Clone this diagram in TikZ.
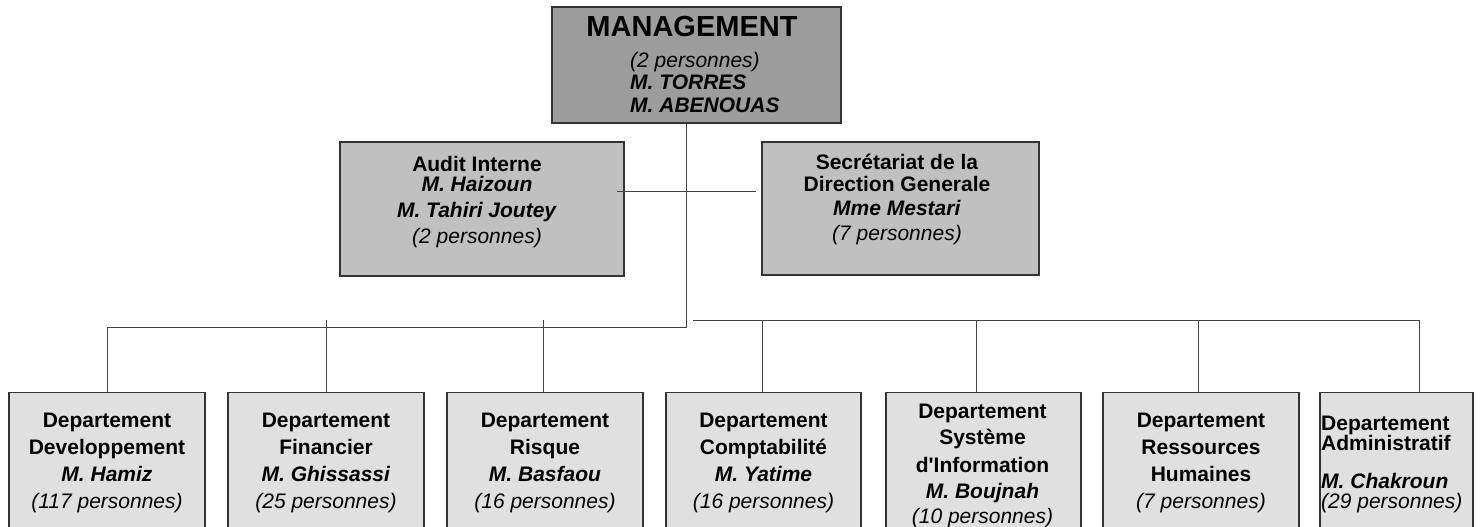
\documentclass[tikz,border=0pt]{standalone}
\usepackage{fontspec}
\setmainfont{Liberation Sans}
\definecolor{mgfill}{HTML}{9C9C9C}
\definecolor{midfill}{HTML}{C0C0C0}
\definecolor{lowfill}{HTML}{E0E0E0}
\definecolor{boxline}{HTML}{333333}
\definecolor{connline}{HTML}{444444}
\tikzset{
  box/.style={draw=boxline, line width=1.2pt, rectangle, inner sep=0pt},
  mgbox/.style={box, fill=mgfill, minimum width=289pt, minimum height=116pt},
  midbox/.style={box, fill=midfill, minimum height=134pt},
  dept/.style={box, fill=lowfill, anchor=north, minimum height=170pt},
  conn/.style={draw=connline, line width=1pt},
  txt/.style={inner sep=0pt, anchor=base, font=\fontsize{21}{25}\selectfont},
  txtl/.style={txt, anchor=base west},
  bigtxt/.style={inner sep=0pt, anchor=base, font=\fontsize{29}{33}\selectfont\bfseries},
}
\newcommand{\bi}[1]{\textbf{\textit{#1}}}
\begin{document}
\begin{tikzpicture}[x=1pt,y=-1pt]
\useasboundingbox (0,0) rectangle (1484,527);
\clip (0,0) rectangle (1484,527);

% boxes
\node[mgbox] (mgmt) at (696.5,65) {};
\node[midbox, minimum width=284pt] (audit) at (482,209) {};
\node[midbox, minimum width=277pt, minimum height=133pt] (secr) at (900.5,208.5) {};
\node[dept, minimum width=196pt] (d1) at (107,392) {};
\node[dept, minimum width=196pt] (d2) at (326,392) {};
\node[dept, minimum width=196pt] (d3) at (545,392) {};
\node[dept, minimum width=195pt] (d4) at (763.5,392) {};
\node[dept, minimum width=195pt] (d5) at (983.5,392) {};
\node[dept, minimum width=196pt] (d6) at (1201,392) {};
\node[dept, minimum width=153pt] (d7) at (1396.5,392) {};

% connector coordinates
\coordinate (mb) at (686,123);
\coordinate (jl) at (686,327);
\coordinate (bl) at (107,327);
\coordinate (ha) at (617,191);
\coordinate (hs) at (756,191);
\coordinate (br0) at (693,320);
\coordinate (br7) at (1419,320);
\coordinate (t7) at (1419,392);
\coordinate (t2a) at (326,320);
\coordinate (t3a) at (543,320);
\coordinate (t3) at (543,392);
\coordinate (t4a) at (762,320);
\coordinate (t4) at (762,392);
\coordinate (t5a) at (976,320);
\coordinate (t5) at (976,392);
\coordinate (t6a) at (1198,320);
\coordinate (t6) at (1198,392);

% connectors
\draw[conn] (mb) -- (jl) -- (bl) -- (d1.north);
\draw[conn] (ha) -- (hs);
\draw[conn] (br0) -- (br7) -- (t7);
\draw[conn] (t2a) -- (d2.north);
\draw[conn] (t3a) -- (t3);
\draw[conn] (t4a) -- (t4);
\draw[conn] (t5a) -- (t5);
\draw[conn] (t6a) -- (t6);

% management text
\node[bigtxt] (mg1) at (692,37) {MANAGEMENT};
\node[txtl] (mg2) at (630,67) {\textit{(2 personnes)}};
\node[txtl] (mg3) at (630,89) {\bi{M. TORRES}};
\node[txtl] (mg4) at (630,113) {\bi{M. ABENOUAS}};

% audit text
\node[txt] (au1) at (477,171) {\textbf{Audit Interne}};
\node[txt] (au2) at (477,191) {\bi{M. Haizoun}};
\node[txt] (au3) at (477,217) {\bi{M. Tahiri Joutey}};
\node[txt] (au4) at (477,243) {\textit{(2 personnes)}};

% secretariat text
\node[txt] (se1) at (897,169) {\textbf{Secrétariat de la}};
\node[txt] (se2) at (897,191) {\textbf{Direction Generale}};
\node[txt] (se3) at (897,215) {\bi{Mme Mestari}};
\node[txt] (se4) at (897,240) {\textit{(7 personnes)}};

% departments
\node[txt] (a1) at (107,427) {\textbf{Departement}};
\node[txt] (a2) at (107,454) {\textbf{Developpement}};
\node[txt] (a3) at (107,481) {\bi{M. Hamiz}};
\node[txt] (a4) at (107,508) {\textit{(117 personnes)}};

\node[txt] (b1) at (326,427) {\textbf{Departement}};
\node[txt] (b2) at (326,454) {\textbf{Financier}};
\node[txt] (b3) at (326,481) {\bi{M. Ghissassi}};
\node[txt] (b4) at (326,508) {\textit{(25 personnes)}};

\node[txt] (c1) at (545,427) {\textbf{Departement}};
\node[txt] (c2) at (545,454) {\textbf{Risque}};
\node[txt] (c3) at (545,481) {\bi{M. Basfaou}};
\node[txt] (c4) at (545,508) {\textit{(16 personnes)}};

\node[txt] (e1) at (763.5,427) {\textbf{Departement}};
\node[txt] (e2) at (763.5,454) {\textbf{Comptabilité}};
\node[txt] (e3) at (763.5,481) {\bi{M. Yatime}};
\node[txt] (e4) at (763.5,508) {\textit{(16 personnes)}};

\node[txt] (f1) at (982.5,418) {\textbf{Departement}};
\node[txt] (f2) at (982.5,444) {\textbf{Système}};
\node[txt] (f3) at (982.5,472) {\textbf{d\textquotesingle Information}};
\node[txt] (f4) at (982.5,498) {\bi{M. Boujnah}};
\node[txt] (f5) at (982.5,523) {\textit{(10 personnes)}};

\node[txt] (g1) at (1201,427) {\textbf{Departement}};
\node[txt] (g2) at (1201,454) {\textbf{Ressources}};
\node[txt] (g3) at (1201,481) {\textbf{Humaines}};
\node[txt] (g4) at (1201,508) {\textit{(7 personnes)}};

\node[txtl] (h1) at (1321,430) {\textbf{Departement}};
\node[txtl] (h2) at (1321,450) {\textbf{Administratif}};
\node[txtl] (h3) at (1321,488) {\bi{M. Chakroun}};
\node[txtl] (h4) at (1321,508) {\textit{(29 personnes)}};
\end{tikzpicture}
\end{document}
